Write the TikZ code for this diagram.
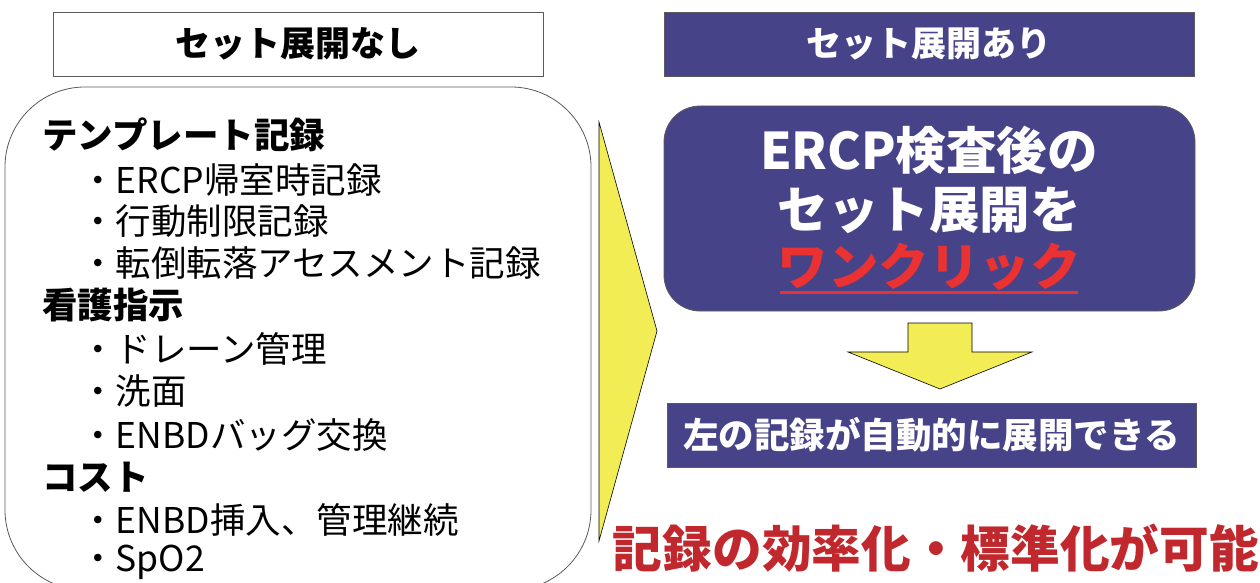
\documentclass[tikz,border=0pt]{standalone}
\usepackage{fontspec}
\setmainfont{Noto Sans CJK JP}
\definecolor{navy}{RGB}{70,67,137}
\definecolor{yel}{RGB}{242,236,85}
\definecolor{clickred}{RGB}{234,50,50}
\definecolor{darkred}{RGB}{192,40,45}
\definecolor{edge}{RGB}{90,90,90}
\begin{document}
\begin{tikzpicture}[x=1pt,y=-1pt,
  hdrbox/.style={draw=edge, line width=0.8pt, minimum width=490pt, minimum height=64pt, inner sep=0pt, font=\fontsize{35}{35}\selectfont\bfseries},
  navybox/.style={fill=navy, draw=edge, line width=0.8pt, text=white, inner sep=0pt},
  headtxt/.style={anchor=west, inner sep=0pt, font=\fontsize{35.5}{35.5}\selectfont\bfseries},
  itemtxt/.style={anchor=west, inner sep=0pt, font=\fontsize{35.5}{35.5}\selectfont},
  bigtxt/.style={inner sep=0pt, text=white, font=\fontsize{50.5}{50.5}\selectfont\bfseries},
  arrowfill/.style={fill=yel, draw=black, line width=0.6pt}]
\useasboundingbox (0,0) rectangle (1260,583);
% headers
\node[hdrbox] (nohdr) at (298,44) {セット展開なし};
\node[hdrbox, navybox, minimum width=530pt] (yeshdr) at (929,44) {セット展開あり};
% left rounded box
\draw[edge, line width=0.8pt, rounded corners=80pt] (5,87) rectangle (591,590);
\node[headtxt] (h1) at (42,135) {テンプレート記録};
\node[itemtxt] (i1) at (80,180) {・ERCP帰室時記録};
\node[itemtxt] (i2) at (80,221) {・行動制限記録};
\node[itemtxt] (i3) at (80,263) {・転倒転落アセスメント記録};
\node[headtxt] (h2) at (42,305) {看護指示};
\node[itemtxt] (i4) at (80,349) {・ドレーン管理};
\node[itemtxt] (i5) at (80,391) {・洗面};
\node[itemtxt] (i6) at (80,435) {・ENBDバッグ交換};
\node[headtxt] (h3) at (42,477) {コスト};
\node[itemtxt] (i7) at (80,520) {・ENBD挿入、管理継続};
\node[itemtxt] (i8) at (80,562) {・SpO2};
% big yellow arrow
\draw[arrowfill] (599,122) -- (657,331) -- (599,541) -- cycle;
% main navy rounded box
\node[navybox, rounded corners=36pt, minimum width=531pt, minimum height=205pt] (main) at (929.5,208.5) {};
\node[bigtxt] (l1) at (929,150) {ERCP検査後の};
\node[bigtxt] (l2) at (929,210) {セット展開を};
\node[bigtxt, text=clickred] (l3) at (929,267) {ワンクリック};
\draw[clickred, line width=3pt] (780,292) -- (1078,292);
% down arrow
\draw[arrowfill] (908,323) -- (972,323) -- (972,352) -- (1032,352) -- (940,389) -- (848,352) -- (908,352) -- cycle;
% bottom navy box
\node[navybox, minimum width=529pt, minimum height=64pt, font=\fontsize{35.5}{35.5}\selectfont\bfseries] (auto) at (931.5,435) {左の記録が自動的に展開できる};
% conclusion
\node[inner sep=0pt, text=darkred, font=\fontsize{49.7}{49.7}\selectfont\bfseries] (concl) at (936,548) {記録の効率化・標準化が可能};
\end{tikzpicture}
\end{document}
